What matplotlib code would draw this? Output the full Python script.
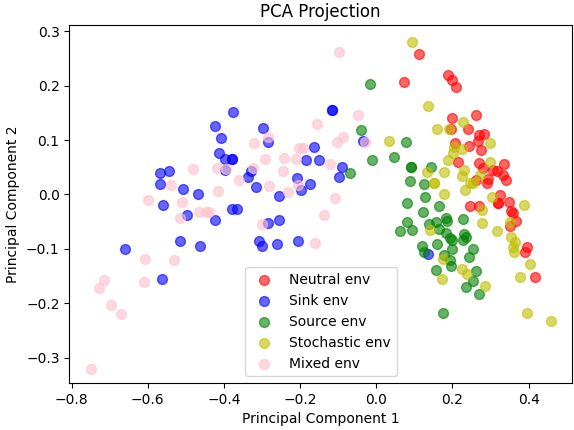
import numpy as np
import matplotlib.pyplot as plt

# PCA scores for each environment type (PC1, PC2)

neutral_pc1 = [0.113, 0.073, 0.189, 0.199, 0.209, 0.262, 0.199, 0.196, 0.240, 0.271,
               0.283, 0.268, 0.243, 0.206, 0.275, 0.214, 0.270, 0.336, 0.281, 0.307,
               0.318, 0.332, 0.341, 0.294, 0.291, 0.263, 0.325, 0.349, 0.320, 0.320,
               0.246, 0.270, 0.353, 0.360, 0.368, 0.351, 0.395, 0.390, 0.417]
neutral_pc2 = [0.258, 0.206, 0.220, 0.211, 0.198, 0.147, 0.140, 0.121, 0.120, 0.109,
               0.112, 0.099, 0.089, 0.094, 0.081, 0.060, 0.058, 0.056, 0.049, 0.045,
               0.044, 0.036, 0.027, 0.029, 0.021, 0.026, -0.001, -0.013, -0.015, -0.015,
               -0.021, -0.021, -0.030, -0.034, -0.049, -0.058, -0.096, -0.106, -0.151]

sink_pc1 = [-0.375, -0.423, -0.408, -0.413, -0.396, -0.380, -0.378, -0.396, -0.329, -0.337,
            -0.315, -0.297, -0.285, -0.568, -0.545, -0.568, -0.508, -0.469, -0.560, -0.378,
            -0.366, -0.498, -0.423, -0.308, -0.300, -0.516, -0.463, -0.659, -0.562, -0.117,
            -0.117, -0.164, -0.185, -0.151, -0.090, -0.098, -0.036, -0.209, -0.174, -0.198,
            -0.256, -0.284, -0.256, -0.261, -0.205, 0.135]
sink_pc2 = [0.152, 0.126, 0.104, 0.077, 0.066, 0.065, 0.065, 0.045, 0.044, 0.033,
            0.013, 0.123, 0.096, 0.040, 0.043, 0.019, 0.010, 0.000, -0.020, -0.027,
            -0.027, -0.038, -0.047, -0.086, -0.094, -0.086, -0.095, -0.100, -0.156, 0.155,
            0.155, 0.087, 0.064, 0.064, 0.051, 0.032, 0.099, 0.030, 0.020, 0.009,
            -0.002, -0.053, -0.047, -0.091, -0.086, -0.109]

source_pc1 = [-0.017, -0.041, -0.010, -0.069, 0.046, 0.079, 0.090, 0.090, 0.143, 0.088,
              0.125, 0.128, 0.081, 0.164, 0.123, 0.082, 0.062, 0.094, 0.139, 0.157,
              0.183, 0.185, 0.228, 0.165, 0.182, 0.193, 0.200, 0.231, 0.235, 0.227,
              0.159, 0.119, 0.126, 0.199, 0.255, 0.179, 0.244, 0.193, 0.195, 0.158,
              0.263, 0.237, 0.255, 0.269, 0.176]
source_pc2 = [0.203, 0.119, 0.063, 0.039, 0.069, 0.097, 0.051, 0.051, 0.050, 0.024,
              0.019, -0.004, -0.016, -0.022, -0.033, -0.051, -0.067, -0.065, -0.055, -0.050,
              -0.043, -0.049, -0.045, -0.064, -0.071, -0.080, -0.084, -0.073, -0.079, -0.084,
              -0.091, -0.095, -0.105, -0.101, -0.100, -0.112, -0.115, -0.121, -0.131, -0.139,
              -0.141, -0.170, -0.159, -0.182, -0.218]

stochastic_pc1 = [0.095, 0.135, 0.033, 0.159, 0.191, 0.228, 0.298, 0.204, 0.201, 0.225,
                  0.188, 0.132, 0.179, 0.230, 0.224, 0.246, 0.272, 0.298, 0.152, 0.152,
                  0.178, 0.234, 0.255, 0.304, 0.141, 0.174, 0.225, 0.239, 0.172, 0.277,
                  0.279, 0.316, 0.351, 0.355, 0.364, 0.360, 0.361, 0.404, 0.377, 0.388,
                  0.285, 0.396, 0.458]
stochastic_pc2 = [0.280, 0.163, 0.099, 0.120, 0.121, 0.133, 0.094, 0.087, 0.076, 0.084,
                  0.063, 0.042, 0.041, 0.045, 0.034, 0.022, 0.036, 0.060, 0.021, 0.021,
                  0.000, 0.008, 0.021, -0.004, -0.065, -0.119, -0.137, -0.147, -0.156, -0.053,
                  -0.029, -0.068, -0.050, -0.078, -0.087, -0.096, -0.105, -0.127, -0.151, -0.019,
                  -0.168, -0.217, -0.232]

mixed_pc1 = [-0.320, -0.480, -0.417, -0.395, -0.323, -0.360, -0.292, -0.283, -0.538, -0.415,
             -0.599, -0.510, -0.465, -0.446, -0.440, -0.516, -0.300, -0.606, -0.532, -0.611,
             -0.716, -0.727, -0.697, -0.670, -0.748, -0.098, -0.048, -0.156, -0.087, -0.103,
             -0.030, -0.203, -0.192, -0.242, -0.210, -0.122, -0.245, -0.282, -0.205, -0.231,
             -0.107, -0.137, -0.161]
mixed_pc2 = [0.094, 0.046, 0.049, 0.047, 0.049, 0.027, 0.066, 0.106, 0.017, 0.007,
             -0.010, -0.013, -0.032, -0.032, -0.032, -0.043, -0.055, -0.119, -0.120, -0.161,
             -0.158, -0.172, -0.203, -0.220, -0.320, 0.262, 0.147, 0.129, 0.106, 0.096,
             0.097, 0.085, 0.085, 0.067, 0.065, 0.056, 0.043, 0.016, 0.018, 0.005,
             -0.006, -0.038, -0.089]

groups = [
    ("Neutral env", neutral_pc1, neutral_pc2, "red"),
    ("Sink env", sink_pc1, sink_pc2, "blue"),
    ("Source env", source_pc1, source_pc2, "green"),
    ("Stochastic env", stochastic_pc1, stochastic_pc2, "y"),
    ("Mixed env", mixed_pc1, mixed_pc2, "pink"),
]

fig = plt.figure(figsize=(5.74, 4.30), dpi=100)
ax = fig.add_axes([0.1207, 0.1093, 0.8758, 0.8326])

for label, pc1, pc2, color in groups:
    ax.scatter(np.array(pc1), np.array(pc2), c=color, alpha=0.6, s=50, label=label)

ax.set_xlim(-0.806, 0.514)
ax.set_ylim(-0.3465, 0.3116)
ax.set_xticks([-0.8, -0.6, -0.4, -0.2, 0.0, 0.2, 0.4])
ax.set_yticks([-0.3, -0.2, -0.1, 0.0, 0.1, 0.2, 0.3])
ax.set_title("PCA Projection")
ax.set_xlabel("Principal Component 1")
ax.set_ylabel("Principal Component 2")
ax.legend(loc="lower center")

fig.savefig("out.png", dpi=100)
